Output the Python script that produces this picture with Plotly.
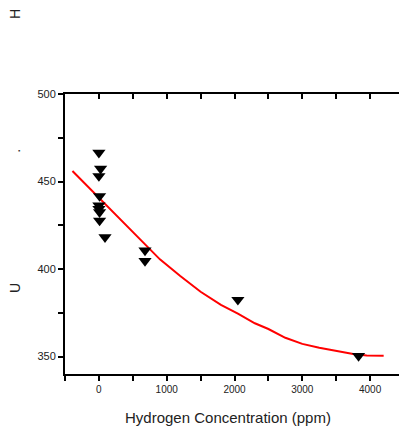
import plotly.graph_objects as go

# Measured data (Hydrogen concentration in ppm vs U)
meas_x = [0, 25, 0, 10, 0, 0, 10, 10, 90, 680, 680, 2050, 3830]
meas_y = [466.5, 457.3, 453.1, 441.7, 436.3, 434.4, 432.5, 427.7, 418.2, 410.6, 404.6, 382.4, 350.3]

# Fitted curve
fit_x = [-390, 0, 500, 900, 1200, 1500, 1800, 2050, 2300, 2500, 2750, 3000, 3250, 3500, 3750, 3950, 4200]
fit_y = [456, 440.7, 421.5, 405.5, 396, 387, 379.5, 374.5, 369, 365.7, 360.7, 357.2, 355, 353, 351.4, 350.6, 350.5]

x_range = [-500, 4500]
y_range = [340, 500]

x_title = "Hydrogen Concentration (ppm)"
y_title_parts = ["U", ".", "H"]

fig = go.Figure()
fig.add_trace(go.Scatter(x=fit_x, y=fit_y, mode="lines",
                         line=dict(color="#ff0000", width=2), showlegend=False))
fig.add_trace(go.Scatter(x=meas_x, y=meas_y, mode="markers",
                         marker=dict(symbol="triangle-down", size=11.5, color="black"),
                         showlegend=False))
# invisible trace to host mirrored (top/right) axes
fig.add_trace(go.Scatter(x=[fit_x[0]], y=[fit_y[0]], xaxis="x2", yaxis="y2", mode="markers",
                         marker=dict(opacity=0), showlegend=False, hoverinfo="skip"))

axis_common = dict(showline=True, linecolor="black", linewidth=2, showgrid=False,
                   zeroline=False, tickcolor="black", tickwidth=1.5, ticklen=5)

# page body has an 8px margin, so the margins are reduced accordingly
fig.update_layout(
    width=407, height=433,
    margin=dict(l=57, r=11, t=86, b=67),
    paper_bgcolor="white", plot_bgcolor="white",
    font=dict(family="Liberation Sans, Arial, sans-serif", color="#222"),
    xaxis=dict(range=x_range, ticks="outside", tick0=0, dtick=1000,
               minor=dict(dtick=500, ticks="outside", ticklen=5, tickcolor="black", tickwidth=1.5),
               tickfont=dict(size=10, color="#222"),
               **axis_common),
    yaxis=dict(range=y_range, ticks="outside", tick0=0, dtick=50,
               minor=dict(dtick=25, ticks="outside", ticklen=5, tickcolor="black", tickwidth=1.5),
               tickfont=dict(size=11, color="#222"), **axis_common),
    xaxis2=dict(range=x_range, overlaying="x", side="top", anchor="y2", ticks="inside",
                tick0=0, dtick=1000, showticklabels=False,
                minor=dict(dtick=500, ticks="inside", ticklen=5, tickcolor="black", tickwidth=1.5),
                **axis_common),
    yaxis2=dict(range=y_range, overlaying="y", side="right", anchor="x2", ticks="inside",
                tick0=0, dtick=50, showticklabels=False,
                minor=dict(dtick=25, ticks="inside", ticklen=5, tickcolor="black", tickwidth=1.5),
                **axis_common),
)

# x-axis title
fig.add_annotation(text=x_title, x=0.481, y=-0.1536, xref="paper", yref="paper",
                   xanchor="center", yanchor="middle", showarrow=False,
                   font=dict(size=15, color="#222"))

ann_pos = [(-0.1475, 0.307), (-0.146, 0.796), (-0.1475, 1.286)]
for txt, (ax, ay) in zip(y_title_parts, ann_pos):
    fig.add_annotation(text=txt, x=ax, y=ay, xref="paper", yref="paper",
                       xanchor="center", yanchor="middle", textangle=-90,
                       showarrow=False, font=dict(size=14, color="#222"))

fig.write_html("out.html")
